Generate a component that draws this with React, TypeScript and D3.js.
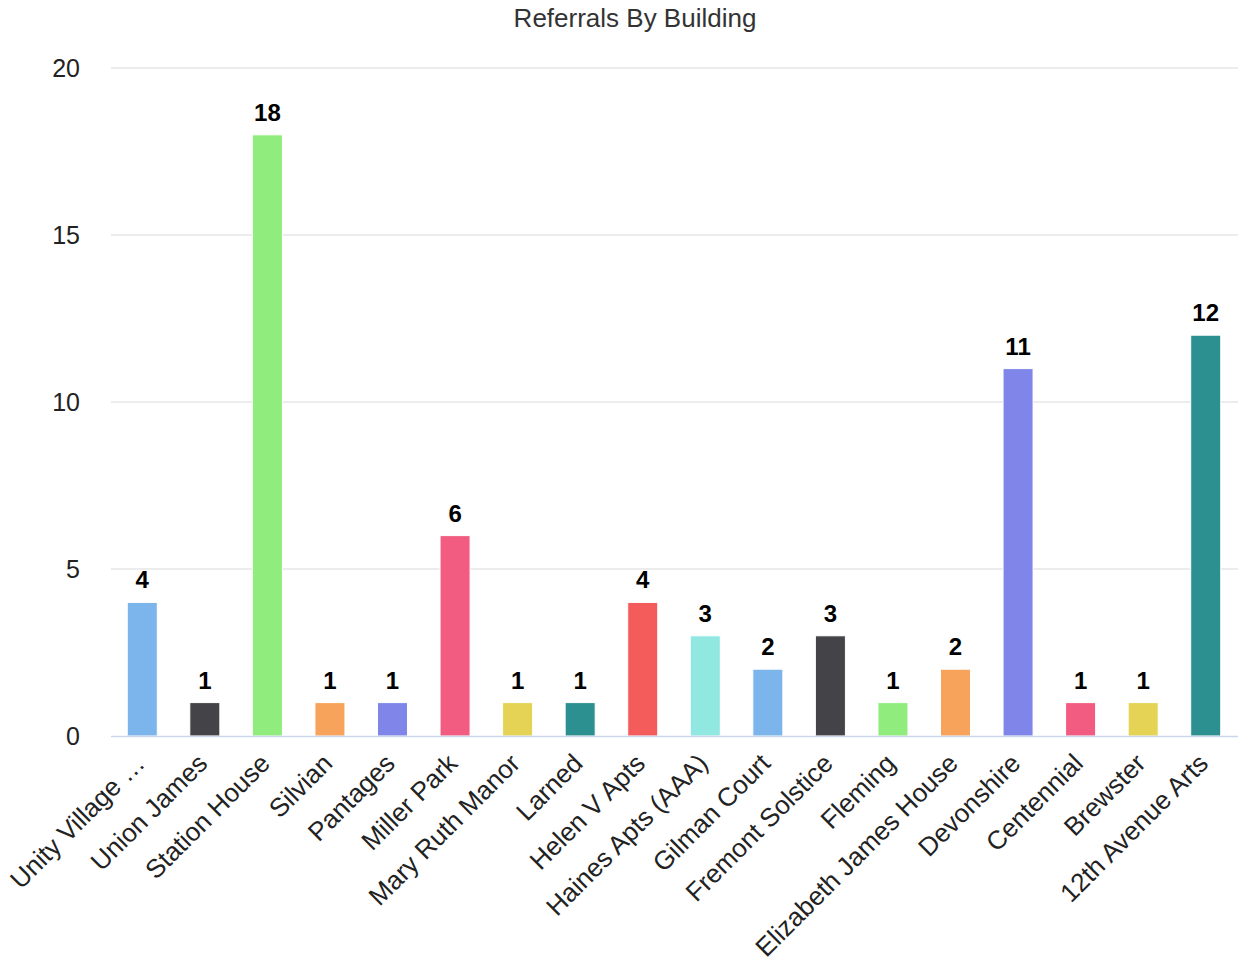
import React from "react";
import * as d3 from "d3";

const categories = [
  "Unity Village …",
  "Union James",
  "Station House",
  "Silvian",
  "Pantages",
  "Miller Park",
  "Mary Ruth Manor",
  "Larned",
  "Helen V Apts",
  "Haines Apts (AAA)",
  "Gilman Court",
  "Fremont Solstice",
  "Fleming",
  "Elizabeth James House",
  "Devonshire",
  "Centennial",
  "Brewster",
  "12th Avenue Arts",
];
const values = [4, 1, 18, 1, 1, 6, 1, 1, 4, 3, 2, 3, 1, 2, 11, 1, 1, 12];
const palette = [
  "#7cb5ec", "#434348", "#90ed7d", "#f7a35c", "#8085e9",
  "#f15c80", "#e4d354", "#2b908f", "#f45b5b", "#91e8e1",
];
const yTicks = [0, 5, 10, 15, 20];
const title = "Referrals By Building";

const W = 1238;
const H = 963;
const FONT = "'Liberation Sans', Arial, sans-serif";

export default function App() {
  const x = d3
    .scaleBand<string>()
    .domain(categories)
    .range([111, 1237])
    .paddingInner(0.52)
    .paddingOuter(0.26);
  const y = d3.scaleLinear().domain([0, 20]).range([736, 68]);

  return (
    <svg
      width={W}
      height={H}
      style={{ position: "absolute", left: 0, top: 0, background: "#fff" }}
      fontFamily={FONT}
    >
      <text x={635} y={27} textAnchor="middle" fontSize={26} fill="#333">
        {title}
      </text>
      {yTicks.map((t) => (
        <g key={t}>
          {t !== 0 && (
            <line x1={111} x2={1238} y1={y(t)} y2={y(t)} stroke="#e6e6e6" strokeWidth={1.5} />
          )}
          <text x={80} y={y(t) + 9} textAnchor="end" fontSize={25} fill="#222">
            {t}
          </text>
        </g>
      ))}
      {categories.map((c, i) => (
        <rect
          key={c}
          x={x(c)}
          y={y(values[i])}
          width={x.bandwidth()}
          height={y(0) - y(values[i])}
          fill={palette[i % palette.length]}
          stroke="#fff"
          strokeWidth={1}
        />
      ))}
      <line x1={111} x2={1238} y1={y(0) + 0.5} y2={y(0) + 0.5} stroke="#ccd6eb" strokeWidth={1.5} />
      {categories.map((c, i) => (
        <text
          key={"v" + c}
          x={(x(c) as number) + x.bandwidth() / 2}
          y={y(values[i]) - 14}
          textAnchor="middle"
          fontSize={24}
          fontWeight="bold"
          fill="#000"
        >
          {values[i]}
        </text>
      ))}
      {categories.map((c) => {
        const cx = (x(c) as number) + x.bandwidth() / 2 + 4;
        const cy = 765;
        return (
          <text
            key={"l" + c}
            transform={`translate(${cx},${cy}) rotate(-45)`}
            textAnchor="end"
            fontSize={26}
            fill="#222"
          >
            {c}
          </text>
        );
      })}
    </svg>
  );
}
